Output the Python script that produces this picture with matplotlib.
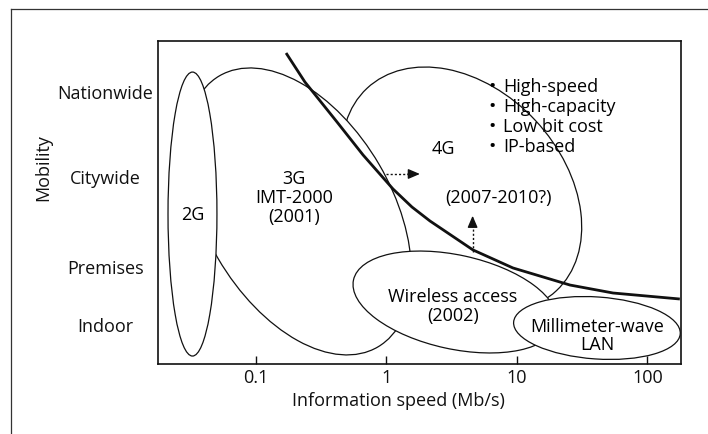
import numpy as np
import matplotlib.pyplot as plt
from matplotlib.patches import Ellipse
from matplotlib.lines import Line2D

plt.rcParams['font.family'] = ['Open Sans', 'DejaVu Sans']
INK = '#111111'
FS = 13

# x is log10 of speed (Mb/s), y is a mobility scale drawn in the same units
speed_ticks = [0.1, 1, 10, 100]
speed_labels = ['0.1', '1', '10', '100']
mobility_levels = ['Indoor', 'Premises', 'Citywide', 'Nationwide']
mobility_pos = [0.31, 0.75, 1.44, 2.09]

# systems, bottom to top: centre speed (Mb/s), centre mobility, width (decades), height, tilt
systems = ['4G', '3G', '2G', 'Wireless access', 'Millimeter-wave LAN']
sys_speed = [3.77, 0.212, 0.0326, 3.35, 41.0]
sys_mobility = [1.337, 1.169, 1.149, 0.475, 0.276]
sys_width = [2.124, 2.406, 0.375, 1.592, 1.280]
sys_height = [1.548, 1.429, 2.176, 0.720, 0.475]
sys_angle = [-46.9, -59.7, 0.0, -12.3, -4.0]

# thick boundary line
curve_speed = [0.170, 0.237, 0.418, 0.661, 1.122, 1.567, 2.153, 4.60, 9.31, 25.5, 54.5, 177]
curve_mobility = [2.383, 2.161, 1.854, 1.602, 1.341, 1.203, 1.096, 0.874, 0.736, 0.605, 0.544, 0.498]

features = ['High-speed', 'High-capacity', 'Low bit cost', 'IP-based']

fig = plt.figure(figsize=(7.08, 4.35), dpi=100)
ax = fig.add_axes([158/708, 70/435, 523/708, 323/435])
ax.set_xlim(-1.751, 2.257)
ax.set_ylim(0, 2.475)

for i in range(len(systems)):
    e = Ellipse((np.log10(sys_speed[i]), sys_mobility[i]), sys_width[i], sys_height[i],
                angle=sys_angle[i], facecolor='white', edgecolor=INK, lw=0.9, zorder=2 + i)
    ax.add_patch(e)

ax.plot(np.log10(curve_speed), curve_mobility, color=INK, lw=2.0, zorder=10,
        solid_capstyle='butt', solid_joinstyle='round')

# labels inside the ellipses
ax.text(-1.485, 1.149, '2G', fontsize=FS, ha='center', va='center', zorder=11)
ax.text(-0.709, 1.280, '3G\nIMT-2000\n(2001)', fontsize=FS, ha='center', va='center',
        linespacing=1.05, zorder=11)
ax.text(0.433, 1.655, '4G', fontsize=FS, ha='center', va='center', zorder=11)
ax.text(0.862, 1.280, '(2007-2010?)', fontsize=FS, ha='center', va='center', zorder=11)
ax.text(0.510, 0.447, 'Wireless access\n(2002)', fontsize=FS, ha='center', va='center',
        linespacing=1.05, zorder=11)
ax.text(1.613, 0.222, 'Millimeter-wave\nLAN', fontsize=FS, ha='center', va='center',
        linespacing=0.98, zorder=11)
for k, f in enumerate(features):
    yk = 2.132 - k * 0.153
    ax.text(0.806, yk, '\u2022', fontsize=14, ha='center', va='center', zorder=11)
    ax.text(0.893, yk, f, fontsize=FS, ha='left', va='center', zorder=11)

# dotted arrows
ax.plot([0.0, 0.165], [1.456, 1.456], color=INK, lw=1.0, ls=(0, (1.5, 1.5)), zorder=11)
ax.annotate('', xy=(0.256, 1.456), xytext=(0.165, 1.456), zorder=11,
            arrowprops=dict(arrowstyle='-|>,head_length=0.7,head_width=0.3', color=INK,
                            lw=1.0, shrinkA=0, shrinkB=0))
ax.plot([0.660, 0.660], [0.858, 1.050], color=INK, lw=1.0, ls=(0, (1.5, 1.5)), zorder=11)
ax.annotate('', xy=(0.660, 1.136), xytext=(0.660, 1.050), zorder=11,
            arrowprops=dict(arrowstyle='-|>,head_length=0.7,head_width=0.3', color=INK,
                            lw=1.0, shrinkA=0, shrinkB=0))

ax.set_xticks(np.log10(speed_ticks))
ax.set_xticklabels(speed_labels, fontsize=FS)
ax.tick_params(axis='x', direction='in', length=6, width=1.0, pad=3, colors=INK)
ax.set_yticks(mobility_pos)
ax.set_yticklabels(mobility_levels, fontsize=FS, ha='center')
ax.tick_params(axis='y', length=0, pad=38, colors=INK)
for s in ax.spines.values():
    s.set_linewidth(1.2)
    s.set_color(INK)

ax.set_xlabel('Information speed (Mb/s)', fontsize=FS, color=INK)
ax.xaxis.set_label_coords(0.46, -0.085)
fig.text(43/708, 1 - 168/435, 'Mobility', rotation=90, fontsize=FS, ha='center',
         va='center', color=INK)

# page frame of the scan
fig.add_artist(Line2D([11/708, 1], [1 - 10/435, 1 - 10/435], color='#333333', lw=0.9))
fig.add_artist(Line2D([11/708, 11/708], [0, 1 - 10/435], color='#333333', lw=0.9))

fig.savefig('out.png', dpi=100, facecolor='white')
